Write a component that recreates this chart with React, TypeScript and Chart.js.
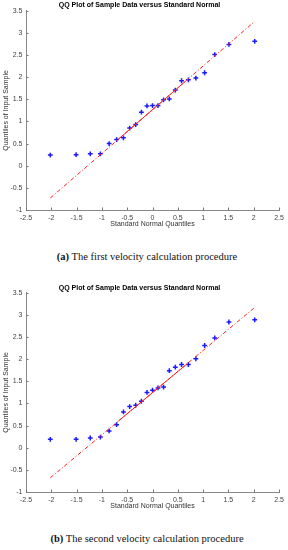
import React, { useEffect, useRef } from "react";
import { Chart, registerables } from "chart.js";

Chart.register(...registerables);

// Standard normal quantiles for 23 samples
const quantilesX = [
  -2.02, -1.51, -1.23, -1.03, -0.857, -0.709, -0.574, -0.451, -0.332, -0.219, -0.109, 0,
  0.109, 0.219, 0.332, 0.451, 0.574, 0.709, 0.857, 1.03, 1.23, 1.51, 2.02,
];

const sample1Y = [
  0.24, 0.25, 0.27, 0.27, 0.5, 0.59, 0.63, 0.85, 0.93, 1.21, 1.35, 1.36,
  1.36, 1.49, 1.51, 1.71, 1.92, 1.94, 1.98, 2.1, 2.51, 2.74, 2.81,
];

const sample2Y = [
  0.19, 0.19, 0.22, 0.24, 0.38, 0.52, 0.81, 0.93, 0.96, 1.05, 1.25, 1.3,
  1.35, 1.37, 1.74, 1.82, 1.88, 1.88, 2.01, 2.31, 2.48, 2.84, 2.89,
];

// Reference lines (dash-dot over data range, solid between quartiles)
const refRangeX = [-2.02, 2.02];
const ref1RangeY = [-0.73, 3.26];
const ref2RangeY = [-0.68, 3.17];
const refQuartX = [-0.674, 0.674];
const ref1QuartY = [0.6, 1.931];
const ref2QuartY = [0.603, 1.887];

const xTicksMin = -2.5;
const xTicksMax = 2.5;
const yTicksMin = -1;
const yTicksMax = 3.5;
const tickStep = 0.5;

const chartTitle = "QQ Plot of Sample Data versus Standard Normal";
const xLabel = "Standard Normal Quantiles";
const yLabel = "Quantiles of Input Sample";
const captions = [
  { tag: "(a)", text: " The first velocity calculation procedure" },
  { tag: "(b)", text: " The second velocity calculation procedure" },
];

const innerTicks = {
  id: "innerTicks",
  afterDraw(chart: any) {
    const { ctx, chartArea } = chart;
    const xs = chart.scales.x;
    const ys = chart.scales.y;
    ctx.save();
    ctx.strokeStyle = "#777";
    ctx.lineWidth = 1;
    ctx.beginPath();
    xs.ticks.forEach((t: any) => {
      const px = Math.round(xs.getPixelForValue(t.value)) + 0.5;
      ctx.moveTo(px, chartArea.bottom);
      ctx.lineTo(px, chartArea.bottom - 2.5);
    });
    ys.ticks.forEach((t: any) => {
      const py = Math.round(ys.getPixelForValue(t.value)) + 0.5;
      ctx.moveTo(chartArea.left, py);
      ctx.lineTo(chartArea.left + 2.5, py);
    });
    ctx.stroke();
    ctx.restore();
  },
};

const fmt = (v: any) => String(Math.round(Number(v) * 10) / 10);

function QQChart({ y, lineY, quartY, titleTop }: { y: number[]; lineY: number[]; quartY: number[]; titleTop: number }) {
  const ref = useRef<HTMLCanvasElement>(null);
  useEffect(() => {
    if (!ref.current) return;
    const font = { family: "'Liberation Sans', Arial, sans-serif", size: 7 };
    const chart = new Chart(ref.current, {
      type: "scatter",
      data: {
        datasets: [
          {
            type: "line",
            data: refRangeX.map((x, i) => ({ x, y: lineY[i] })),
            borderColor: "#ff2020",
            borderWidth: 1,
            borderDash: [4, 2, 1, 2],
            pointRadius: 0,
            fill: false,
          } as any,
          {
            type: "line",
            data: refQuartX.map((x, i) => ({ x, y: quartY[i] })),
            borderColor: "#ff2020",
            borderWidth: 1,
            pointRadius: 0,
            fill: false,
          } as any,
          {
            data: quantilesX.map((x, i) => ({ x, y: y[i] })),
            pointStyle: "cross",
            pointRadius: 2.4,
            pointBorderWidth: 1.5,
            borderColor: "#1a1aff",
            backgroundColor: "#1a1aff",
            pointHoverRadius: 2.4,
          },
        ],
      },
      options: {
        animation: false,
        responsive: false,
        maintainAspectRatio: false,
        layout: { padding: { left: 0, right: 9, top: 0, bottom: 1 } },
        plugins: {
          legend: { display: false },
          tooltip: { enabled: false },
          title: {
            display: true,
            text: chartTitle,
            color: "#000",
            font: { family: "'Liberation Sans', Arial, sans-serif", size: 7, weight: "bold" },
            padding: { top: titleTop, bottom: 10.8 - titleTop - 8.4 },
          },
        },
        scales: {
          x: {
            type: "linear",
            min: xTicksMin,
            max: xTicksMax,
            ticks: { stepSize: tickStep, color: "#444", font, padding: 3.5, maxRotation: 0, callback: fmt },
            grid: { display: false, drawTicks: false },
            border: { display: true, color: "#888", width: 1 },
            title: { display: true, text: xLabel, color: "#333", font, padding: { top: 0, bottom: 0 } },
            afterFit: (s: any) => {
              s.height = 18;
            },
          },
          y: {
            type: "linear",
            min: yTicksMin,
            max: yTicksMax,
            ticks: { stepSize: tickStep, color: "#444", font, padding: 3.5, callback: fmt },
            grid: { display: false, drawTicks: false },
            border: { display: true, color: "#888", width: 1 },
            title: { display: true, text: yLabel, color: "#333", font, padding: { top: 2, bottom: 0 } },
            afterFit: (s: any) => {
              s.width = 26;
            },
          },
        },
      } as any,
      plugins: [innerTicks],
    });
    return () => chart.destroy();
  }, [y, lineY, quartY, titleTop]);
  return <canvas ref={ref} width={288} height={229} style={{ display: "block", width: 288, height: 229 }} />;
}

function Caption({ tag, text, top }: { tag: string; text: string; top: number }) {
  return (
    <div
      style={{
        position: "absolute",
        left: 0,
        top,
        width: 294,
        textAlign: "center",
        fontFamily: "'Liberation Serif', 'DejaVu Serif', serif",
        fontSize: 10.5,
        lineHeight: "12px",
        color: "#111",
        whiteSpace: "nowrap",
      }}
    >
      <b>{tag}</b>
      {text}
    </div>
  );
}

export default function App() {
  return (
    <div style={{ position: "absolute", left: 0, top: 0, width: 288, height: 550, background: "#fff", overflow: "hidden" }}>
      <div style={{ position: "absolute", left: 0, top: 0 }}>
        <QQChart y={sample1Y} lineY={ref1RangeY} quartY={ref1QuartY} titleTop={1} />
      </div>
      <Caption tag={captions[0].tag} text={captions[0].text} top={251} />
      <div style={{ position: "absolute", left: 0, top: 282 }}>
        <QQChart y={sample2Y} lineY={ref2RangeY} quartY={ref2QuartY} titleTop={1.8} />
      </div>
      <Caption tag={captions[1].tag} text={captions[1].text} top={533} />
    </div>
  );
}
